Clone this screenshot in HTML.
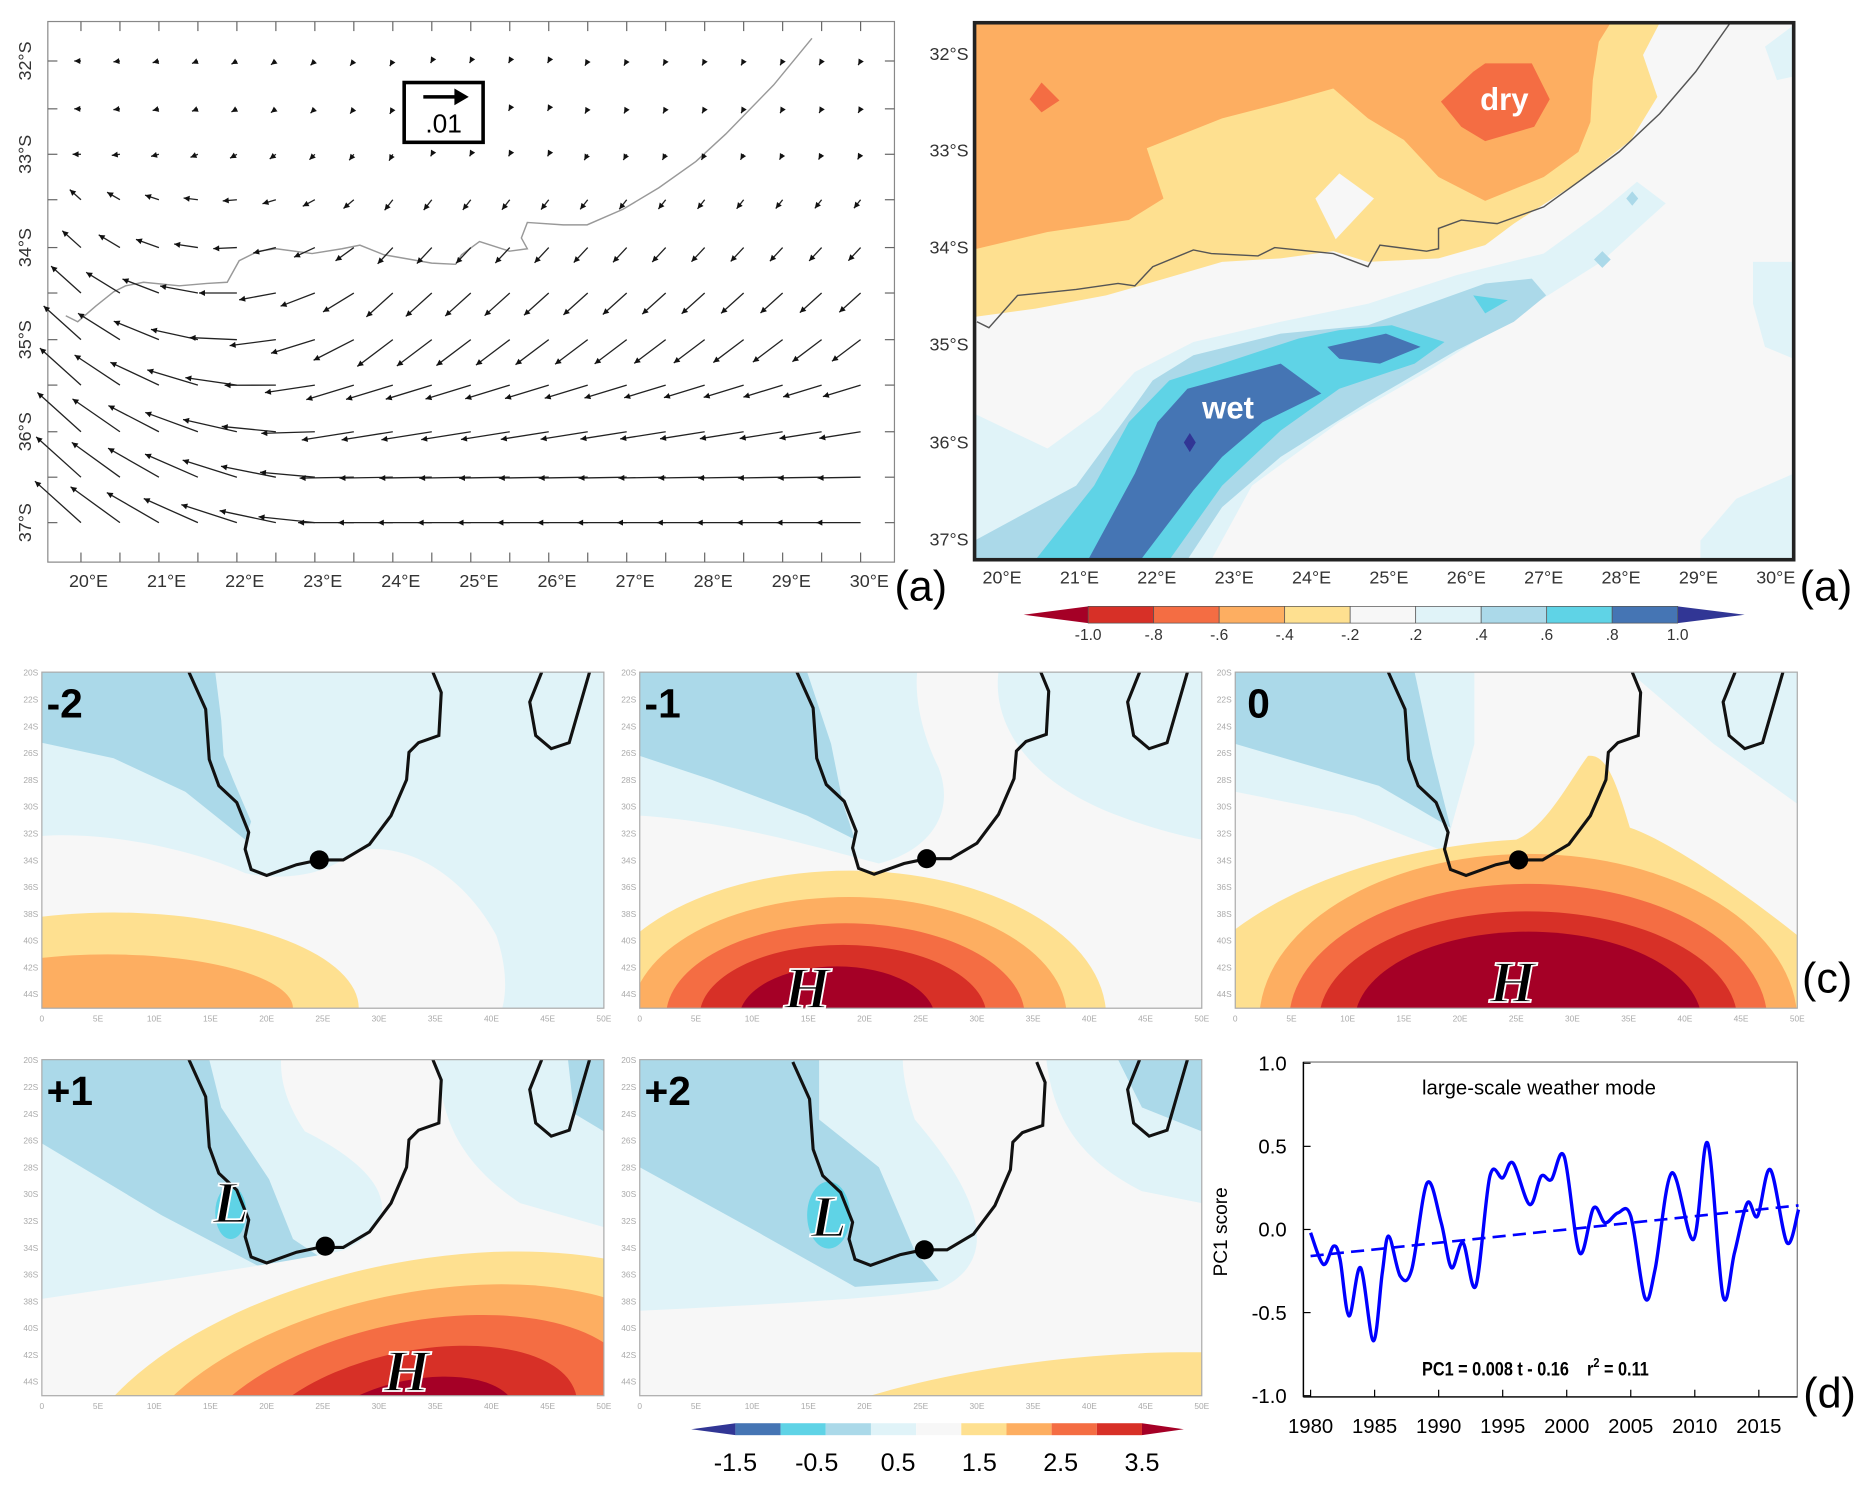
<!DOCTYPE html>
<html><head><meta charset="utf-8"><style>
html,body{margin:0;padding:0;background:#fff;overflow:hidden;width:1875px;height:1489px;}
svg{display:block;font-family:"Liberation Sans",sans-serif;}
</style></head><body>
<svg id="fig" width="1875" height="1489" viewBox="0 0 1568 1245" preserveAspectRatio="none" xmlns="http://www.w3.org/2000/svg">
<defs>
<clipPath id="clipA2"><rect x="815" y="19" width="685" height="449"/></clipPath>
<clipPath id="cp"><rect x="0" y="0" width="470" height="281"/></clipPath>
<path id="coast" d="M123,0 L137,31 L140,73 L148,95 L163,109 L173,134 L170,148 L175,165 L188,170 L213,161 L232,157 L252,157 L274,144 L292,120 L305,90 L307,67 L315,59 L332,53 L334,17 L327,0" fill="none" stroke="#111" stroke-width="2.6"/>
<path id="mada" d="M418,0 L408,25 L413,53 L426,64 L441,59 L458,0" fill="none" stroke="#111" stroke-width="2.6"/>
</defs>

<g>
<rect x="40" y="18" width="708" height="452" fill="#fff" stroke="#888" stroke-width="1"/>
<path d="M679,32 L647,71 L607,112 L582,135 L551,157 L521,175 L491,188 L471,188 L441,186 L436,199 L441,208 L426,210 L401,202 L386,213 L381,221 L361,220 L321,213 L301,205 L286,208 L261,212 L231,208 L216,210 L200,218 L190,236 L173,237 L150,239 L120,236 L105,239 L95,244 L80,256 L65,269 L55,264" fill="none" stroke="#999" stroke-width="1.2"/>
<g id="vecs"></g>
<g id="aTicks"></g>
<g>
<rect x="338" y="69" width="66" height="50" fill="#fff" stroke="#000" stroke-width="3"/>
<line x1="354" y1="81" x2="383" y2="81" stroke="#000" stroke-width="3"/>
<polygon points="392,81 380,74 380,88" fill="#000"/>
<text x="371" y="111" font-size="22" text-anchor="middle">.01</text>
</g>
<text x="748" y="502" font-size="36">(a)</text>
</g>

<g>
<g clip-path="url(#clipA2)">
<rect x="815" y="19" width="685" height="449" fill="#f7f7f7"/>
<polygon points="1476,39 1500,21 1500,64 1486,67" fill="#e0f3f8"/>
<polygon points="1466,219 1500,219 1500,300 1476,290 1466,254" fill="#e0f3f8"/>
<polygon points="1422,452 1452,417 1500,396 1500,468 1422,468" fill="#e0f3f8"/>
<polygon points="815,346 876,375 920,343 949,311 998,286 1071,269 1144,254 1218,230 1291,212 1339,177 1369,152 1393,170 1339,219 1266,265 1193,311 1120,353 1047,406 1013,468 815,468" fill="#e0f3f8"/>
<polygon points="815,452 900,406 939,353 964,318 998,297 1071,279 1144,272 1203,251 1242,237 1281,233 1293,247 1266,269 1218,293 1144,336 1071,382 1022,424 993,468 815,468" fill="#abd9e9"/>
<polygon points="866,468 915,406 944,353 978,318 1022,304 1086,283 1120,276 1164,272 1208,286 1183,304 1120,325 1071,360 1022,406 978,468" fill="#5fd3e6"/>
<polygon points="1232,247 1261,251 1242,262" fill="#5fd3e6"/>
<polygon points="910,468 949,396 968,353 993,325 1071,304 1105,329 1056,353 1022,382 998,410 954,468" fill="#4575b4"/>
<polygon points="1110,290 1159,279 1188,290 1154,304 1120,300" fill="#4575b4"/>
<polygon points="995,362 1000,370 995,378 990,370" fill="#313695"/>
<polygon points="1333,217 1340,210 1347,217 1340,224" fill="#abd9e9"/>
<polygon points="1360,166 1365,160 1370,166 1365,172" fill="#abd9e9"/>
<polygon points="815,19 1388,19 1374,46 1386,81 1364,117 1320,152 1266,187 1242,205 1203,216 1144,219 1115,210 1071,216 1022,219 974,233 925,247 866,258 815,265" fill="#fee090"/>
<polygon points="815,19 1347,19 1337,35 1332,67 1330,102 1320,127 1291,148 1242,168 1203,148 1174,117 1144,99 1115,74 1076,85 1022,99 959,124 973,166 944,184 876,194 817,208 815,208" fill="#fdae61"/>
<polygon points="1120,145 1149,166 1117,200 1100,166" fill="#f7f7f7"/>
<polygon points="1242,53 1281,53 1296,83 1283,106 1242,118 1222,106 1205,85 1232,60" fill="#f46d43"/>
<polygon points="871,69 886,84 871,94 861,83" fill="#f46d43"/>
<path d="M817,269 L827,274 L851,247 L881,244 L900,242 L935,237 L949,239 L964,223 L998,209 L1013,212 L1052,214 L1066,207 L1115,212 L1144,223 L1154,205 L1193,210 L1203,208 L1203,191 L1222,184 L1252,187 L1291,173 L1320,152 L1354,127 L1388,95 L1418,60 L1447,19" fill="none" stroke="#555" stroke-width="1.2"/>
</g>
<rect x="815" y="19" width="685" height="449" fill="none" stroke="#222" stroke-width="3"/>
<text x="1258" y="92" font-size="26" font-weight="bold" fill="#fff" text-anchor="middle">dry</text>
<text x="1027" y="350" font-size="26" font-weight="bold" fill="#fff" text-anchor="middle">wet</text>
<g id="a2Ticks"></g>
<g id="cbarA"></g>
<text x="1505" y="502" font-size="36">(a)</text>
</g>

<g id="pm2" transform="translate(35,562)">
<g clip-path="url(#cp)">
<rect width="470" height="281" fill="#e0f3f8"/>
<polygon points="0,0 145,0 150,40 152,70 160,90 175,125 170,140 120,100 60,72 0,59" fill="#abd9e9"/>
<path d="M0,137 C60,133 130,150 170,168 C200,175 240,170 260,150 C300,140 350,165 380,220 C390,250 388,270 385,281 L0,281 Z" fill="#f7f7f7"/>
<ellipse cx="60" cy="281" rx="205" ry="80" fill="#fee090"/>
<ellipse cx="55" cy="281" rx="155" ry="45" fill="#fdae61"/>
<use href="#coast"/><use href="#mada"/>
<circle cx="232" cy="157" r="8" fill="#000"/>
</g>
<rect width="470" height="281" fill="none" stroke="#aaa"/>
<text x="4" y="38" font-size="34" font-weight="bold">-2</text>
</g>

<g id="pm1" transform="translate(535,562)">
<g clip-path="url(#cp)">
<rect width="470" height="281" fill="#e0f3f8"/>
<polygon points="0,0 140,0 160,60 170,110 180,140 140,120 60,90 0,70" fill="#abd9e9"/>
<path d="M0,120 C80,125 160,150 200,160 C240,150 265,120 250,80 C235,50 230,20 232,0 L300,0 C295,40 320,90 400,120 C440,135 470,140 470,140 L470,281 L0,281 Z" fill="#f7f7f7"/>
<ellipse cx="175" cy="288" rx="215" ry="122" fill="#fee090"/>
<ellipse cx="175" cy="288" rx="182" ry="100" fill="#fdae61"/>
<ellipse cx="172" cy="288" rx="150" ry="78" fill="#f46d43"/>
<ellipse cx="170" cy="288" rx="120" ry="60" fill="#d73027"/>
<ellipse cx="165" cy="290" rx="82" ry="44" fill="#a50026"/>
<use href="#coast" transform="translate(8,-1)"/><use href="#mada"/>
<circle cx="240" cy="156" r="8" fill="#000"/>
</g>
<rect width="470" height="281" fill="none" stroke="#aaa"/>
<text x="4" y="38" font-size="34" font-weight="bold">-1</text>
</g>

<g id="p0" transform="translate(1033,562)">
<g clip-path="url(#cp)">
<rect width="470" height="281" fill="#f7f7f7"/>
<polygon points="0,0 200,0 200,60 175,150 100,120 0,100" fill="#e0f3f8"/>
<polygon points="0,0 150,0 165,70 180,130 120,95 0,60" fill="#abd9e9"/>
<polygon points="330,0 470,0 470,110 400,60" fill="#e0f3f8"/>
<path d="M235,140 C260,130 280,90 295,70 C310,68 318,90 330,130 C360,140 420,180 470,220 L470,281 L0,281 L0,215 C60,170 150,145 235,140 Z" fill="#fee090"/>
<ellipse cx="245" cy="292" rx="225" ry="140" fill="#fdae61"/>
<ellipse cx="245" cy="292" rx="200" ry="115" fill="#f46d43"/>
<ellipse cx="245" cy="292" rx="175" ry="92" fill="#d73027"/>
<ellipse cx="245" cy="292" rx="145" ry="75" fill="#a50026"/>
<use href="#coast" transform="translate(5,0)"/><use href="#mada"/>
<circle cx="237" cy="157" r="8" fill="#000"/>
</g>
<rect width="470" height="281" fill="none" stroke="#aaa"/>
<text x="10" y="38" font-size="34" font-weight="bold">0</text>
</g>

<g id="pp1" transform="translate(35,886)">
<g clip-path="url(#cp)">
<rect width="470" height="281" fill="#e0f3f8"/>
<polygon points="0,0 140,0 150,40 190,100 210,150 240,170 180,172 100,130 0,70" fill="#abd9e9"/>
<polygon points="440,0 470,0 470,60 445,45" fill="#abd9e9"/>
<path d="M0,200 C100,185 200,170 250,160 C300,140 300,100 220,60 C200,30 200,10 200,0 L330,0 C335,40 340,80 400,120 L470,140 L470,281 L0,281 Z" fill="#f7f7f7"/>
<ellipse cx="158" cy="128" rx="13" ry="22" fill="#5fd3e6"/>
<g transform="translate(310,310) rotate(-12)">
<ellipse rx="290" ry="140" fill="#fee090"/>
<ellipse rx="240" ry="114" fill="#fdae61"/>
<ellipse rx="190" ry="90" fill="#f46d43"/>
<ellipse rx="140" ry="66" fill="#d73027"/>
<ellipse rx="88" ry="42" fill="#a50026"/>
</g>
<use href="#coast"/><use href="#mada"/>
<circle cx="237" cy="156" r="8" fill="#000"/>
</g>
<rect width="470" height="281" fill="none" stroke="#aaa"/>
<text x="4" y="38" font-size="34" font-weight="bold">+1</text>
</g>

<g id="pp2" transform="translate(535,886)">
<g clip-path="url(#cp)">
<rect width="470" height="281" fill="#e0f3f8"/>
<polygon points="0,0 150,0 150,50 200,90 230,160 250,185 180,190 100,145 0,90" fill="#abd9e9"/>
<polygon points="400,0 470,0 470,60 420,40" fill="#abd9e9"/>
<path d="M0,210 C100,205 200,200 250,192 C300,170 290,120 230,50 C222,25 220,10 220,0 L340,0 C345,40 360,80 420,110 L470,120 L470,281 L0,281 Z" fill="#f7f7f7"/>
<ellipse cx="158" cy="130" rx="18" ry="28" fill="#5fd3e6"/>
<ellipse cx="360" cy="312" rx="260" ry="62" fill="#fee090" transform="rotate(-6 360 312)"/>
<use href="#coast" transform="translate(5,2)"/><use href="#mada"/>
<circle cx="238" cy="159" r="8" fill="#000"/>
</g>
<rect width="470" height="281" fill="none" stroke="#aaa"/>
<text x="4" y="38" font-size="34" font-weight="bold">+2</text>
</g>

<g font-family="'Liberation Serif',serif" font-style="italic" font-weight="bold" font-size="50" stroke="#fff" stroke-width="1.5" fill="#000" text-anchor="middle">
<text x="675" y="843">H</text>
<text x="1265" y="838">H</text>
<text x="340" y="1163">H</text>
<text x="193" y="1022">L</text>
<text x="693" y="1034">L</text>
</g>
<g id="cTicks"></g>
<g id="cbarC"></g>
<text x="1507" y="830" font-size="36">(c)</text>

<g id="chartD"></g>
<text x="1508" y="1177" font-size="36">(d)</text>
</svg>

<script>
const years = [1980.0,1981.0,1981.8,1982.3,1983.0,1983.9,1984.9,1985.6,1986.1,1987.0,1987.9,1989.1,1990.2,1991.0,1991.9,1992.9,1994.0,1995.0,1995.8,1997.1,1998.0,1998.8,1999.8,2001.0,2002.1,2003.0,2004.0,2005.0,2006.1,2006.9,2008.2,2009.9,2011.0,2012.2,2013.1,2014.1,2014.9,2015.9,2017.2,2018.1];
const pc1 = [-0.02,-0.21,-0.10,-0.18,-0.52,-0.23,-0.67,-0.26,-0.04,-0.28,-0.24,0.28,0.04,-0.23,-0.08,-0.34,0.32,0.31,0.40,0.15,0.32,0.30,0.44,-0.14,0.13,0.04,0.10,0.08,-0.41,-0.24,0.34,-0.06,0.52,-0.40,-0.14,0.16,0.08,0.36,-0.08,0.12];
const trendSlope = 0.008;
const trendIntercept = -0.16;
const xTickYears = [1980,1985,1990,1995,2000,2005,2010,2015];
const yTicks = [-1.0,-0.5,0.0,0.5,1.0];
const yTickLabels = ["-1.0","-0.5","0.0","0.5","1.0"];

const cbarALabels = ["-1.0","-.8","-.6","-.4","-.2",".2",".4",".6",".8","1.0"];
const cbarAColors = ["#d73027","#f46d43","#fdae61","#fee090","#f7f7f7","#e0f3f8","#abd9e9","#5fd3e6","#4575b4"];
const cbarCLabels = ["-1.5","-0.5","0.5","1.5","2.5","3.5"];
const cbarCColors = ["#4575b4","#5fd3e6","#abd9e9","#e0f3f8","#f7f7f7","#fee090","#fdae61","#f46d43","#d73027"];
const rowMag = [4,4,5,9,15,24,30,33,35,36,37];

const NS="http://www.w3.org/2000/svg";
function mk(tag,attrs,parent,txt){const e=document.createElementNS(NS,tag);for(const k in attrs)e.setAttribute(k,attrs[k]);if(txt!==undefined)e.textContent=txt;parent.appendChild(e);return e;}

(function(){
const g=document.getElementById('chartD');
const X0=1090,X1=1503,Y0=888,Y1=1168;
const xs=y=>1096+(y-1980)*10.71;
const ys=v=>1028-v*139;
mk('rect',{x:X0,y:Y0,width:X1-X0,height:Y1-Y0,fill:'#fff',stroke:'#777','stroke-width':1},g);
mk('line',{x1:X0,y1:Y0,x2:X0,y2:Y1,stroke:'#000','stroke-width':1.2},g);
mk('line',{x1:X0,y1:Y1,x2:X1,y2:Y1,stroke:'#000','stroke-width':1.2},g);
yTicks.forEach((v,i)=>{
 const t=mk('line',{x1:X0,y1:ys(v),x2:X0+6,y2:ys(v),stroke:'#000'},g);
 
 
 const l=mk('text',{x:X0-14,y:ys(v)+6,'font-size':17,'text-anchor':'end'},g,yTickLabels[i]);
 
 
});
xTickYears.forEach(yr=>{
 const t=mk('line',{x1:xs(yr),y1:Y1,x2:xs(yr),y2:Y1-6,stroke:'#000'},g);
 
 
 const l=mk('text',{x:xs(yr),y:Y1+30,'font-size':17,'text-anchor':'middle'},g,String(yr));
 
 
});
const yl=mk('text',{x:0,y:0,'font-size':16,'text-anchor':'middle',transform:'translate(1026,1030) rotate(-90)'},g,'PC1 score');


const tt=mk('text',{x:1287,y:915,'font-size':17,'text-anchor':'middle'},g,'large-scale weather mode');


const eq=mk('text',{x:1284,y:1150,'font-size':16,'font-weight':'bold','text-anchor':'middle',transform:'translate(1284,0) scale(0.85,1) translate(-1284,0)'},g);


eq.innerHTML='PC1 = 0.008 t - 0.16 &#160;&#160; r<tspan dy="-7" font-size="11">2</tspan><tspan dy="7"> = 0.11</tspan>';
const tA=years[0],tB=years[years.length-1];
const tr=mk('line',{x1:xs(tA),y1:ys(trendIntercept+trendSlope*(tA-1980)),x2:xs(tB),y2:ys(trendIntercept+trendSlope*(tB-1980)),stroke:'#0000ff','stroke-width':2.2,'stroke-dasharray':'11 6'},g);


const P=years.map((y,i)=>[xs(y),ys(pc1[i])]);
let d='M'+P[0][0]+','+P[0][1];
for(let i=0;i<P.length-1;i++){
 const p0=P[Math.max(0,i-1)],p1=P[i],p2=P[i+1],p3=P[Math.min(P.length-1,i+2)];
 const c1=[p1[0]+(p2[0]-p0[0])/6,p1[1]+(p2[1]-p0[1])/6];
 const c2=[p2[0]-(p3[0]-p1[0])/6,p2[1]-(p3[1]-p1[1])/6];
 d+=' C'+c1.join(',')+' '+c2.join(',')+' '+p2.join(',');
}
const ln=mk('path',{d:d,fill:'none',stroke:'#0000ff','stroke-width':2.8},g);


})();

(function(){
const g=document.getElementById('vecs');
const rowsY=[51,91,129,167,207,245,284,322,361,399,437];
for(let r=0;r<11;r++){
 for(let c=0;c<21;c++){
  const gx=67.7+c*32.6, gy=rowsY[r];
  let leftAng = r>=3 ? -42 : 0;
  let rightAng = r<3 ? 60 : (r<=6 ? 52-(r-3)*5 : Math.max(0,25-(r-6)*8));
  let t = r>=7 ? Math.min(1,c/7) : Math.min(1,c/8);
  const ang=(leftAng*(1-t)+rightAng*t)*Math.PI/180;
  let m=rowMag[r]*(1+0.4*(1-c/20));
  if(r<3 && c>8 && c<13) m=2;
  const dx=-m*Math.cos(ang), dy=m*Math.sin(ang);
  const hx=gx+dx, hy=gy+dy;
  const l=mk('line',{x1:gx,y1:gy,x2:hx,y2:hy,stroke:'#222','stroke-width':1.1},g);
  
  
  const ux=dx/m, uy=dy/m, hs=5;
  mk('polygon',{points:`${hx},${hy} ${hx-ux*hs-uy*2.5},${hy-uy*hs+ux*2.5} ${hx-ux*hs+uy*2.5},${hy-uy*hs-ux*2.5}`,fill:'#111'},g);
 }
}
const a=document.getElementById('aTicks');
for(let c=0;c<21;c++){
 const x=67.7+c*32.6;
 mk('line',{x1:x,y1:470,x2:x,y2:462,stroke:'#666'},a);
 mk('line',{x1:x,y1:18,x2:x,y2:26,stroke:'#666'},a);
}
rowsY.forEach(y=>{mk('line',{x1:40,y1:y,x2:48,y2:y,stroke:'#666'},a);mk('line',{x1:748,y1:y,x2:740,y2:y,stroke:'#666'},a);});
for(let k=0;k<=10;k++){
 const tl=mk('text',{x:74+k*65.3,y:491,'font-size':15,'text-anchor':'middle',fill:'#333'},a,(20+k)+'°E');
 
 
}
[51,129,207,284,361,437].forEach((y,k)=>{
 const tl=mk('text',{x:0,y:0,'font-size':15,'text-anchor':'middle',fill:'#333',transform:`translate(26,${y}) rotate(-90)`},a,(32+k)+'°S');
 
 
});
const b=document.getElementById('a2Ticks');
for(let k=0;k<=10;k++){
 const tl=mk('text',{x:838+k*64.7,y:488,'font-size':15,'text-anchor':'middle',fill:'#333'},b,(20+k)+'°E');
 
 
}
[45,126,207,288,370,451].forEach((y,k)=>{
 const tl=mk('text',{x:810,y:y+5,'font-size':15,'text-anchor':'end',fill:'#333'},b,(32+k)+'°S');
 
 
});
const cb=document.getElementById('cbarA');
const L=910,R=1403,w=(R-L)/cbarAColors.length;
mk('polygon',{points:`856,514 ${L},507 ${L},521`,fill:'#a50026'},cb);
mk('polygon',{points:`1459,514 ${R},507 ${R},521`,fill:'#313695'},cb);
cbarAColors.forEach((col,i)=>{
 const r=mk('rect',{x:L+i*w,y:507,width:w,height:14,fill:col,stroke:'#555','stroke-width':0.6},cb);
 
 
});
cbarALabels.forEach((t,i)=>{mk('text',{x:L+i*w,y:535,'font-size':13,'text-anchor':'middle',fill:'#333'},cb,t);});
const cc=document.getElementById('cbarC');
const L2=615,R2=955,w2=(R2-L2)/cbarCColors.length;
mk('polygon',{points:`578,1195 ${L2},1190 ${L2},1200`,fill:'#313695'},cc);
mk('polygon',{points:`990,1195 ${R2},1190 ${R2},1200`,fill:'#a50026'},cc);
cbarCColors.forEach((col,i)=>{
 const r=mk('rect',{x:L2+i*w2,y:1190,width:w2,height:10,fill:col},cc);
 
 
});
cbarCLabels.forEach((t,i)=>{mk('text',{x:L2+i*68,y:1230,'font-size':21,'text-anchor':'middle'},cc,t);});
const ct=document.getElementById('cTicks');
[[35,562],[535,562],[1033,562],[35,886],[535,886]].forEach(([x0,y0])=>{
 for(let k=0;k<13;k++){mk('text',{x:x0-3,y:y0+3+k*22.4,'font-size':7,'text-anchor':'end',fill:'#aaa'},ct,(20+2*k)+'S');}
 for(let k=0;k<11;k++){mk('text',{x:x0+k*47,y:y0+292,'font-size':7,'text-anchor':'middle',fill:'#aaa'},ct,k===0?'0':(5*k)+'E');}
});
})();
</script>
</body></html>
